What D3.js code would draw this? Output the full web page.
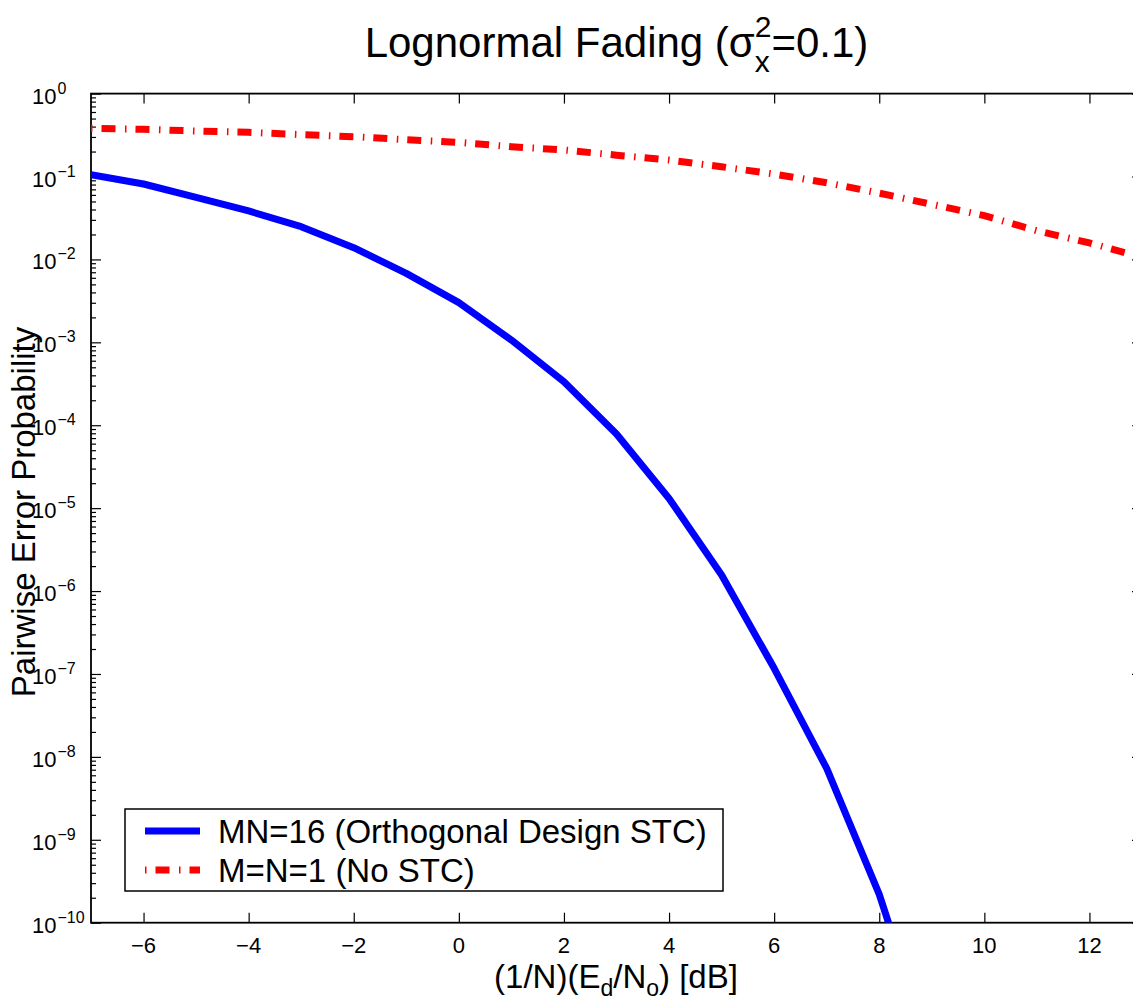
<!DOCTYPE html>
<html>
<head>
<meta charset="utf-8">
<script src="https://cdn.jsdelivr.net/npm/d3@7"></script>
<style>
  html, body { margin: 0; padding: 0; background: #fff; }
  svg { display: block; font-family: "Liberation Sans", Arial, Helvetica, sans-serif; }
</style>
</head>
<body>
<svg id="chart" width="1133" height="1000"></svg>
<script>
// Eb/No axis in dB (1/N)(Ed/No)
const snrDb = [-7, -6, -5, -4, -3, -2, -1, 0, 1, 2, 3, 4, 5, 6, 7, 8, 9, 10, 11, 12, 13];

// Pairwise error probability, MN=16 orthogonal design STC
const snrStc = [-7, -6, -5, -4, -3, -2, -1, 0, 1, 2, 3, 4, 5, 6, 7, 8, 9];
const pepStc = [0.105, 0.0812, 0.0561, 0.0384, 0.0248, 0.01385, 0.00679, 0.00301,
                0.001066, 3.35e-4, 7.83e-5, 1.31e-5, 1.56e-6, 1.17e-7, 7.26e-9,
                2.2e-10, 2.5e-12];

// Pairwise error probability, M=N=1 (no STC)
const pepNoStc = [0.381, 0.371, 0.354, 0.341, 0.32, 0.302, 0.278, 0.258, 0.229, 0.209,
                  0.181, 0.158, 0.131, 0.107, 0.084, 0.063, 0.0462, 0.0337, 0.0222,
                  0.0158, 0.0106];

const xTicks = [-6, -4, -2, 0, 2, 4, 6, 8, 10, 12];
const yDecades = [0, -1, -2, -3, -4, -5, -6, -7, -8, -9, -10];

const seriesNames = ["MN=16 (Orthogonal Design STC)", "M=N=1 (No STC)"];

const svg = d3.select("#chart");
const plotLeft = 91, plotRight = 1142, plotTop = 93.6, plotBottom = 922.7;

const x = d3.scaleLinear().domain([-7, 13]).range([plotLeft, plotRight]);
const y = d3.scaleLog().domain([1e-10, 1]).range([plotBottom, plotTop]);

svg.append("defs").append("clipPath").attr("id", "plotArea")
  .append("rect").attr("x", plotLeft).attr("y", plotTop)
  .attr("width", plotRight - plotLeft).attr("height", plotBottom - plotTop);

// minor log ticks 2..9 in each decade
const minorVals = [];
for (let d = -10; d < 0; d++) for (let m = 2; m <= 9; m++) minorVals.push(m * Math.pow(10, d));
const majorVals = yDecades.map(d => Math.pow(10, d));

// axes drawn with d3 axis generators, ticks pointing inward
const gx = svg.append("g").attr("transform", `translate(0,${plotBottom})`)
  .call(d3.axisTop(x).tickValues(xTicks).tickSize(10).tickFormat(""));
const gxTop = svg.append("g").attr("transform", `translate(0,${plotTop})`)
  .call(d3.axisBottom(x).tickValues(xTicks).tickSize(10).tickFormat(""));
const gyMajor = svg.append("g").attr("transform", `translate(${plotLeft},0)`)
  .call(d3.axisRight(y).tickValues(majorVals).tickSize(10).tickFormat(""));
const gyMinor = svg.append("g").attr("transform", `translate(${plotLeft},0)`)
  .call(d3.axisRight(y).tickValues(minorVals).tickSize(5).tickFormat(""));
const gyMajorR = svg.append("g").attr("transform", `translate(${plotRight},0)`)
  .call(d3.axisLeft(y).tickValues(majorVals).tickSize(10).tickFormat(""));
const gyMinorR = svg.append("g").attr("transform", `translate(${plotRight},0)`)
  .call(d3.axisLeft(y).tickValues(minorVals).tickSize(5).tickFormat(""));

[gx, gxTop, gyMajor, gyMinor, gyMajorR, gyMinorR].forEach(g => {
  g.select(".domain").remove();
  g.selectAll(".tick line").attr("stroke", "#000").attr("stroke-width", 1.2);
});

// box
svg.append("rect").attr("x", plotLeft).attr("y", plotTop)
  .attr("width", plotRight - plotLeft).attr("height", plotBottom - plotTop)
  .attr("fill", "none").attr("stroke", "#000").attr("stroke-width", 1.8);

// x tick labels
svg.append("g").selectAll("text").data(xTicks).join("text")
  .attr("x", d => x(d)).attr("y", 953)
  .attr("text-anchor", "middle").attr("font-size", 22)
  .text(d => d3.format("d")(d));

// y tick labels 10^k
const yl = svg.append("g").selectAll("text").data(yDecades).join("text")
  .attr("x", 32).attr("y", d => y(Math.pow(10, d)) + 10)
  .attr("font-size", 22);
yl.append("tspan").text("10");
yl.append("tspan").attr("dy", -10).attr("dx", 1).attr("font-size", 16)
  .text(d => d === 0 ? "0" : "\u2212" + Math.abs(d));

// curves
const line = d3.line().x(d => x(d[0])).y(d => y(d[1]));
const plot = svg.append("g").attr("clip-path", "url(#plotArea)");

plot.append("path").datum(snrStc.map((s, i) => [s, pepStc[i]]))
  .attr("d", line).attr("fill", "none").attr("stroke", "#0000ff")
  .attr("stroke-width", 7).attr("stroke-linejoin", "round");

const dashDot = "14 9.5 1.5 9";
plot.append("path").datum(snrDb.map((s, i) => [s, pepNoStc[i]]))
  .attr("d", line).attr("fill", "none").attr("stroke", "#ff0000")
  .attr("stroke-width", 7).attr("stroke-dasharray", dashDot)
  .attr("stroke-dashoffset", 23.5);

// legend
const lg = svg.append("g");
lg.append("rect").attr("x", 125).attr("y", 809).attr("width", 598).attr("height", 82)
  .attr("fill", "#fff").attr("stroke", "#000").attr("stroke-width", 1.5);
const legendRows = [
  { name: seriesNames[0], color: "#0000ff", dash: null, cy: 831 },
  { name: seriesNames[1], color: "#ff0000", dash: dashDot, cy: 870 }
];
legendRows.forEach(r => {
  const l = lg.append("line").attr("x1", 145).attr("x2", 200)
    .attr("y1", r.cy).attr("y2", r.cy)
    .attr("stroke", r.color).attr("stroke-width", 7);
  if (r.dash) l.attr("stroke-dasharray", r.dash).attr("stroke-dashoffset", 23.5);
  lg.append("text").attr("x", 218).attr("y", r.cy + 12)
    .attr("font-size", 33).text(r.name);
});

// title with stacked super/subscript on sigma
const title = svg.append("text").attr("x", (plotLeft + plotRight) / 2).attr("y", 57)
  .attr("text-anchor", "middle").attr("font-size", 42);
title.append("tspan").text("Lognormal Fading (\u03c3");
const supSize = 30;
title.append("tspan").attr("font-size", supSize).attr("dy", -20).text("2");
title.append("tspan").attr("font-size", supSize)
  .attr("dx", -0.556 * supSize).attr("dy", 35).text("x");
title.append("tspan").attr("dx", 0.056 * supSize).attr("dy", -15).text("=0.1)");

// x label with subscripts
const xl = svg.append("text").attr("x", 616).attr("y", 988)
  .attr("text-anchor", "middle").attr("font-size", 33);
xl.append("tspan").text("(1/N)(E");
xl.append("tspan").attr("font-size", 23).attr("dy", 8).text("d");
xl.append("tspan").attr("dy", -8).text("/N");
xl.append("tspan").attr("font-size", 23).attr("dy", 8).text("o");
xl.append("tspan").attr("dy", -8).text(") [dB]");

// y label
svg.append("text").attr("transform", "translate(35,512) rotate(-90)")
  .attr("text-anchor", "middle").attr("font-size", 33)
  .text("Pairwise Error Probability");
</script>
</body>
</html>
